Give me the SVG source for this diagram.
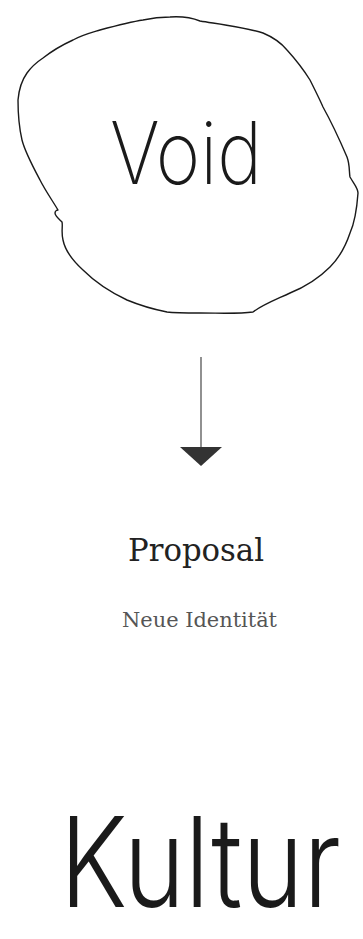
<svg xmlns="http://www.w3.org/2000/svg" width="363" height="939" viewBox="0 0 363 939">
<style>
.blob{fill:none;stroke:#1a1a1a;stroke-width:1.4;stroke-linejoin:round;stroke-linecap:round}
.hand{font-family:"Inter","DejaVu Sans",sans-serif;fill:#1a1a1a}
.serif{font-family:"DejaVu Serif","Liberation Serif",serif}
.edge{stroke:#555;stroke-width:1.3;fill:none}
</style>
<defs>
<marker id="tri" markerWidth="20" markerHeight="42" refX="0" refY="21" markerUnits="userSpaceOnUse" orient="auto" viewBox="0 0 20 42">
<path d="M0,0 L19,21 L0,42 Z" fill="#333"/>
</marker>
</defs>
<rect width="363" height="939" fill="#fff"/>
<g id="void">
<path class="blob" d="M170,17 C185,16 195,19 200,21 C225,25 248,28 263,33 C275,38 282,44 287,50 C297,61 305,72 310,80 C316,92 320,100 323,107 C333,125 341,143 347,157 C350,165 349,172 350,177 C354,184 358,188 358,193 C357,207 355,222 350,233 C345,248 339,258 330,267 C318,279 305,287 290,293 C275,300 262,305 253,312 C238,314 220,313 200,313 C186,313 175,313 167,312 C152,309 139,305 127,300 C110,292 95,282 83,270 C72,260 65,250 63,240 C61,232 63,226 62,222 C59,219 55,216 55,213 C55,211 57,210 58,210 C52,200 45,190 40,180 C32,165 25,152 22,140 C19,127 18,113 18,100 C19,88 22,80 27,73 C32,66 37,62 43,58 C52,51 62,45 73,40 C82,35 90,33 100,30 C115,26 130,22 143,20 C152,18 162,17 170,17 Z"/>
<text class="hand" x="110" y="184" font-size="86" font-weight="200" textLength="152" lengthAdjust="spacingAndGlyphs">Void</text>
</g>
<g id="connectors">
<line class="edge" x1="201" y1="357" x2="201" y2="447" marker-end="url(#tri)"/>
</g>
<g id="proposal">
<text class="serif" x="128" y="561" font-size="32" fill="#222" textLength="136" lengthAdjust="spacingAndGlyphs">Proposal</text>
<text class="serif" x="122" y="627" font-size="20" fill="#555" textLength="155" lengthAdjust="spacingAndGlyphs">Neue Identität</text>
</g>
<g id="kultur">
<text class="hand" transform="translate(60,907) scale(1,1.2)" x="0" y="0" font-size="104" font-weight="300">Kultur</text>
</g>
</svg>
